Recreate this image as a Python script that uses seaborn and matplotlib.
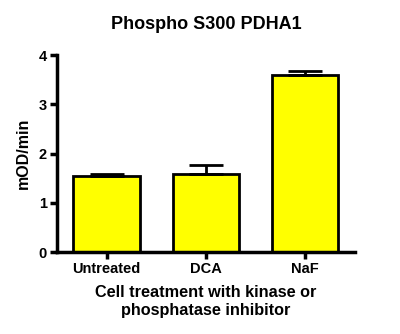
import numpy as np
import pandas as pd
import seaborn as sns
import matplotlib.pyplot as plt

treatments = ['Untreated', 'DCA', 'NaF']
mod_per_min = [1.54, 1.58, 3.60]
sem = [0.04, 0.18, 0.08]

df = pd.DataFrame({'treatment': treatments, 'mod': mod_per_min})

sns.set_style('ticks')
plt.rcParams['font.family'] = ['Liberation Sans', 'DejaVu Sans']
plt.rcParams['font.weight'] = 'bold'
plt.rcParams['text.color'] = 'black'
plt.rcParams['axes.labelcolor'] = 'black'

fig = plt.figure(figsize=(4, 3.34), dpi=100)
ax = fig.add_axes([0.142, 0.2455, 0.7455, 0.5895])

sns.barplot(data=df, x='treatment', y='mod', color='#ffff00', saturation=1,
            edgecolor='black', linewidth=2, width=0.665, errorbar=None, ax=ax)
ax.errorbar(np.arange(len(treatments)), mod_per_min,
            yerr=[np.zeros(len(sem)), sem], fmt='none', ecolor='black',
            elinewidth=2, capsize=12.5, capthick=2, zorder=1)

ax.set_xlim(-0.5, 2.5)
ax.set_ylim(0, 4)
ax.set_yticks([0, 1, 2, 3, 4])
ax.set_title('Phospho S300 PDHA1', fontsize=13, fontweight='bold', pad=19,
             color='black')
ax.set_ylabel('mOD/min', fontsize=11.5, fontweight='bold', labelpad=6)
ax.set_xlabel('Cell treatment with kinase or\nphosphatase inhibitor',
              fontsize=11.7, fontweight='bold', labelpad=7, linespacing=1.25)
ax.tick_params(width=2.5, length=5, labelsize=10.5, color='black',
               labelcolor='black', pad=2)
for lab in ax.get_xticklabels() + ax.get_yticklabels():
    lab.set_fontweight('bold')
sns.despine(ax=ax)
for s in ['left', 'bottom']:
    ax.spines[s].set_linewidth(2.5)
    ax.spines[s].set_color('black')

fig.savefig('out.png', dpi=100)
